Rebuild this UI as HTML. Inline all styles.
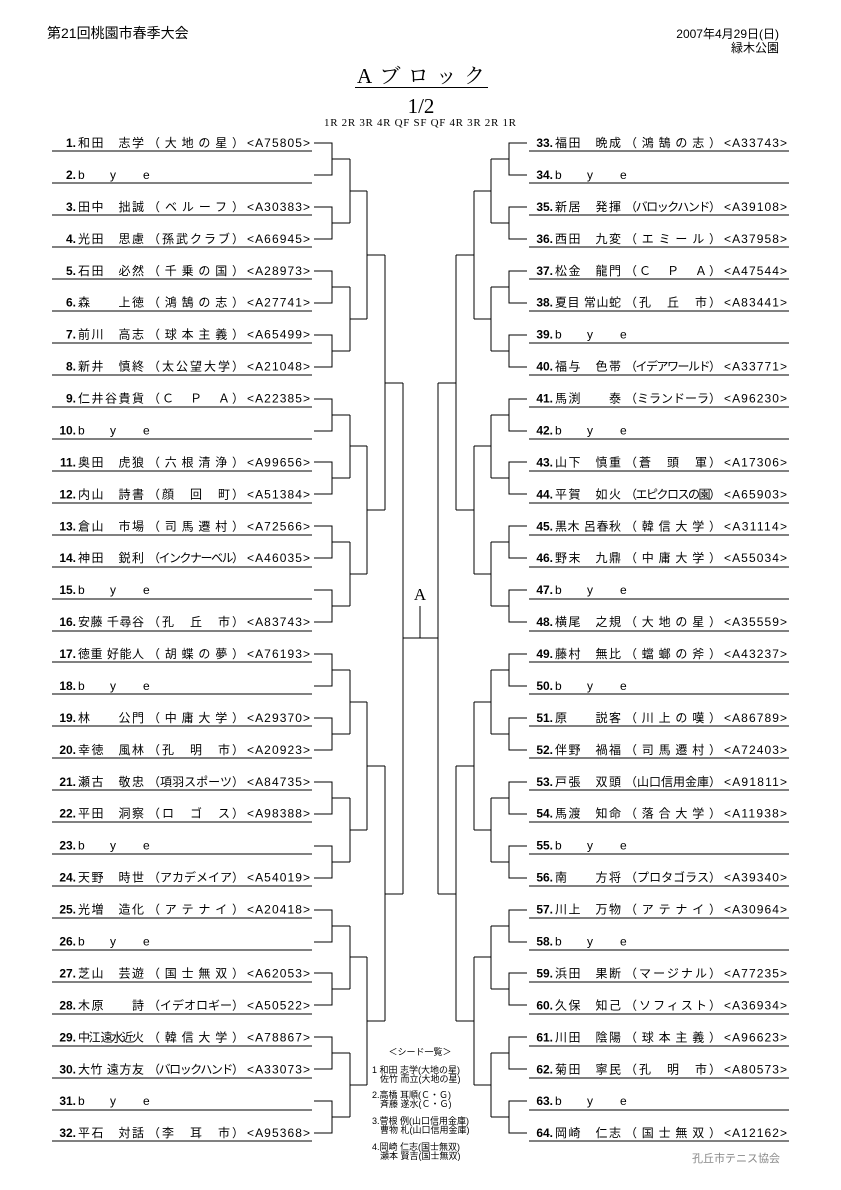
<!DOCTYPE html>
<html><head><meta charset="utf-8"><style>
html,body{margin:0;padding:0;background:#fff}
svg{display:block}
text{font-family:"Liberation Sans","Noto Sans CJK JP",sans-serif;font-size:12px;fill:#000}
.b{font-weight:bold;text-anchor:end}
.s{font-family:"Liberation Serif","Noto Serif CJK SC",serif}
.sd{font-size:9px}
</style></head><body>
<svg width="841" height="1190" viewBox="0 0 841 1190" xmlns="http://www.w3.org/2000/svg">
<text x="47" y="38" style="font-size:14px">第21回桃園市春季大会</text>
<text x="779" y="38" style="font-size:12px;text-anchor:end">2007年4月29日(日)</text>
<text x="779" y="52" style="font-size:12px;text-anchor:end">緑木公園</text>
<text x="421" y="83" class="s" style="font-size:21px;text-anchor:middle" textLength="128" lengthAdjust="spacing">Aブロック</text>
<line x1="355" y1="87.5" x2="488" y2="87.5" stroke="#000" stroke-width="1"/>
<text x="421" y="113" class="s" style="font-size:21px;text-anchor:middle">1/2</text>
<text x="324" y="126" class="s" style="font-size:11px" textLength="192" lengthAdjust="spacing">1R 2R 3R 4R QF SF QF 4R 3R 2R 1R</text>

<g id="L" fill="none" stroke="#000" stroke-width="1" shape-rendering="crispEdges">
<path d="M52 151H312M52 183H312M52 215H312M52 247H312M52 279H312M52 311H312M52 343H312M52 375H312M52 407H312M52 439H312M52 471H312M52 503H312M52 535H312M52 567H312M52 599H312M52 631H312M52 662H312M52 694H312M52 726H312M52 758H312M52 790H312M52 822H312M52 854H312M52 886H312M52 918H312M52 950H312M52 982H312M52 1014H312M52 1046H312M52 1078H312M52 1110H312M52 1141H312" stroke-width="1.3"/>
<path d="M314 143H332V175H314M332 159H350
M314 207H332V239H314M332 223H350
M314 271H332V303H314M332 287H350
M314 335H332V367H314M332 351H350
M314 399H332V431H314M332 415H350
M314 462H332V494H314M332 478H350
M314 526H332V558H314M332 542H350
M314 590H332V622H314M332 606H350
M314 654H332V686H314M332 670H350
M314 718H332V750H314M332 734H350
M314 782H332V814H314M332 798H350
M314 846H332V878H314M332 862H350
M314 910H332V942H314M332 926H350
M314 973H332V1005H314M332 989H350
M314 1037H332V1069H314M332 1053H350
M314 1101H332V1133H314M332 1117H350
M350 159V223M350 191H367M350 287V351M350 319H367M350 415V478M350 446H367M350 542V606M350 574H367
M350 670V734M350 702H367M350 798V862M350 830H367M350 926V989M350 957H367M350 1053V1117M350 1085H367
M367 191V319M367 255H385M367 446V574M367 510H385M367 702V830M367 766H385M367 957V1085M367 1021H385
M385 255V510M385 383H403M385 766V1021M385 894H403
M403 383V894"/>
</g>
<use href="#L" transform="translate(841,0) scale(-1,1)"/>
<path d="M403 638H438M420 606V638" stroke="#000" fill="none" shape-rendering="crispEdges"/>
<text x="420" y="600" class="s" style="font-size:17px;text-anchor:middle">A</text>

<!-- LEFT -->
<g transform="translate(0,0)"><text x="76" y="147" class="b">1.</text><text x="78" y="147" textLength="66" lengthAdjust="spacing">和田　志学</text><text x="148" y="147" textLength="96" lengthAdjust="spacing">（大地の星）</text><text x="247" y="147" textLength="63" lengthAdjust="spacing">&lt;A75805&gt;</text></g>
<g transform="translate(0,31.94)"><text x="76" y="147" class="b">2.</text><text x="78" y="147">b</text><text x="110" y="147">y</text><text x="143" y="147">e</text></g>
<g transform="translate(0,63.88)"><text x="76" y="147" class="b">3.</text><text x="78" y="147" textLength="66" lengthAdjust="spacing">田中　拙誠</text><text x="148" y="147" textLength="96" lengthAdjust="spacing">（ベルーフ）</text><text x="247" y="147" textLength="63" lengthAdjust="spacing">&lt;A30383&gt;</text></g>
<g transform="translate(0,95.82)"><text x="76" y="147" class="b">4.</text><text x="78" y="147" textLength="66" lengthAdjust="spacing">光田　思慮</text><text x="148" y="147" textLength="96" lengthAdjust="spacing">（孫武クラブ）</text><text x="247" y="147" textLength="63" lengthAdjust="spacing">&lt;A66945&gt;</text></g>
<g transform="translate(0,127.76)"><text x="76" y="147" class="b">5.</text><text x="78" y="147" textLength="66" lengthAdjust="spacing">石田　必然</text><text x="148" y="147" textLength="96" lengthAdjust="spacing">（千乗の国）</text><text x="247" y="147" textLength="63" lengthAdjust="spacing">&lt;A28973&gt;</text></g>
<g transform="translate(0,159.7)"><text x="76" y="147" class="b">6.</text><text x="78" y="147" textLength="66" lengthAdjust="spacing">森　　上徳</text><text x="148" y="147" textLength="96" lengthAdjust="spacing">（鴻鵠の志）</text><text x="247" y="147" textLength="63" lengthAdjust="spacing">&lt;A27741&gt;</text></g>
<g transform="translate(0,191.64)"><text x="76" y="147" class="b">7.</text><text x="78" y="147" textLength="66" lengthAdjust="spacing">前川　高志</text><text x="148" y="147" textLength="96" lengthAdjust="spacing">（球本主義）</text><text x="247" y="147" textLength="63" lengthAdjust="spacing">&lt;A65499&gt;</text></g>
<g transform="translate(0,223.58)"><text x="76" y="147" class="b">8.</text><text x="78" y="147" textLength="66" lengthAdjust="spacing">新井　慎終</text><text x="148" y="147" textLength="96" lengthAdjust="spacing">（太公望大学）</text><text x="247" y="147" textLength="63" lengthAdjust="spacing">&lt;A21048&gt;</text></g>
<g transform="translate(0,255.52)"><text x="76" y="147" class="b">9.</text><text x="78" y="147" textLength="66" lengthAdjust="spacing">仁井谷貴貨</text><text x="148" y="147" textLength="96" lengthAdjust="spacing">（Ｃ　Ｐ　Ａ）</text><text x="247" y="147" textLength="63" lengthAdjust="spacing">&lt;A22385&gt;</text></g>
<g transform="translate(0,287.46)"><text x="76" y="147" class="b">10.</text><text x="78" y="147">b</text><text x="110" y="147">y</text><text x="143" y="147">e</text></g>
<g transform="translate(0,319.4)"><text x="76" y="147" class="b">11.</text><text x="78" y="147" textLength="66" lengthAdjust="spacing">奥田　虎狼</text><text x="148" y="147" textLength="96" lengthAdjust="spacing">（六根清浄）</text><text x="247" y="147" textLength="63" lengthAdjust="spacing">&lt;A99656&gt;</text></g>
<g transform="translate(0,351.34)"><text x="76" y="147" class="b">12.</text><text x="78" y="147" textLength="66" lengthAdjust="spacing">内山　詩書</text><text x="148" y="147" textLength="96" lengthAdjust="spacing">（顔　回　町）</text><text x="247" y="147" textLength="63" lengthAdjust="spacing">&lt;A51384&gt;</text></g>
<g transform="translate(0,383.28)"><text x="76" y="147" class="b">13.</text><text x="78" y="147" textLength="66" lengthAdjust="spacing">倉山　市場</text><text x="148" y="147" textLength="96" lengthAdjust="spacing">（司馬遷村）</text><text x="247" y="147" textLength="63" lengthAdjust="spacing">&lt;A72566&gt;</text></g>
<g transform="translate(0,415.22)"><text x="76" y="147" class="b">14.</text><text x="78" y="147" textLength="66" lengthAdjust="spacing">神田　鋭利</text><text x="148" y="147" textLength="96" lengthAdjust="spacing">（インクナーベル）</text><text x="247" y="147" textLength="63" lengthAdjust="spacing">&lt;A46035&gt;</text></g>
<g transform="translate(0,447.16)"><text x="76" y="147" class="b">15.</text><text x="78" y="147">b</text><text x="110" y="147">y</text><text x="143" y="147">e</text></g>
<g transform="translate(0,479.1)"><text x="76" y="147" class="b">16.</text><text x="78" y="147" textLength="66" lengthAdjust="spacing">安藤 千尋谷</text><text x="148" y="147" textLength="96" lengthAdjust="spacing">（孔　丘　市）</text><text x="247" y="147" textLength="63" lengthAdjust="spacing">&lt;A83743&gt;</text></g>
<g transform="translate(0,511.04)"><text x="76" y="147" class="b">17.</text><text x="78" y="147" textLength="66" lengthAdjust="spacing">徳重 好能人</text><text x="148" y="147" textLength="96" lengthAdjust="spacing">（胡蝶の夢）</text><text x="247" y="147" textLength="63" lengthAdjust="spacing">&lt;A76193&gt;</text></g>
<g transform="translate(0,542.98)"><text x="76" y="147" class="b">18.</text><text x="78" y="147">b</text><text x="110" y="147">y</text><text x="143" y="147">e</text></g>
<g transform="translate(0,574.92)"><text x="76" y="147" class="b">19.</text><text x="78" y="147" textLength="66" lengthAdjust="spacing">林　　公門</text><text x="148" y="147" textLength="96" lengthAdjust="spacing">（中庸大学）</text><text x="247" y="147" textLength="63" lengthAdjust="spacing">&lt;A29370&gt;</text></g>
<g transform="translate(0,606.86)"><text x="76" y="147" class="b">20.</text><text x="78" y="147" textLength="66" lengthAdjust="spacing">幸徳　風林</text><text x="148" y="147" textLength="96" lengthAdjust="spacing">（孔　明　市）</text><text x="247" y="147" textLength="63" lengthAdjust="spacing">&lt;A20923&gt;</text></g>
<g transform="translate(0,638.8)"><text x="76" y="147" class="b">21.</text><text x="78" y="147" textLength="66" lengthAdjust="spacing">瀬古　敬忠</text><text x="148" y="147" textLength="96" lengthAdjust="spacing">（項羽スポーツ）</text><text x="247" y="147" textLength="63" lengthAdjust="spacing">&lt;A84735&gt;</text></g>
<g transform="translate(0,670.74)"><text x="76" y="147" class="b">22.</text><text x="78" y="147" textLength="66" lengthAdjust="spacing">平田　洞察</text><text x="148" y="147" textLength="96" lengthAdjust="spacing">（ロ　ゴ　ス）</text><text x="247" y="147" textLength="63" lengthAdjust="spacing">&lt;A98388&gt;</text></g>
<g transform="translate(0,702.68)"><text x="76" y="147" class="b">23.</text><text x="78" y="147">b</text><text x="110" y="147">y</text><text x="143" y="147">e</text></g>
<g transform="translate(0,734.62)"><text x="76" y="147" class="b">24.</text><text x="78" y="147" textLength="66" lengthAdjust="spacing">天野　時世</text><text x="148" y="147" textLength="96" lengthAdjust="spacing">（アカデメイア）</text><text x="247" y="147" textLength="63" lengthAdjust="spacing">&lt;A54019&gt;</text></g>
<g transform="translate(0,766.56)"><text x="76" y="147" class="b">25.</text><text x="78" y="147" textLength="66" lengthAdjust="spacing">光増　造化</text><text x="148" y="147" textLength="96" lengthAdjust="spacing">（アテナイ）</text><text x="247" y="147" textLength="63" lengthAdjust="spacing">&lt;A20418&gt;</text></g>
<g transform="translate(0,798.5)"><text x="76" y="147" class="b">26.</text><text x="78" y="147">b</text><text x="110" y="147">y</text><text x="143" y="147">e</text></g>
<g transform="translate(0,830.44)"><text x="76" y="147" class="b">27.</text><text x="78" y="147" textLength="66" lengthAdjust="spacing">芝山　芸遊</text><text x="148" y="147" textLength="96" lengthAdjust="spacing">（国士無双）</text><text x="247" y="147" textLength="63" lengthAdjust="spacing">&lt;A62053&gt;</text></g>
<g transform="translate(0,862.38)"><text x="76" y="147" class="b">28.</text><text x="78" y="147" textLength="66" lengthAdjust="spacing">木原　　詩</text><text x="148" y="147" textLength="96" lengthAdjust="spacing">（イデオロギー）</text><text x="247" y="147" textLength="63" lengthAdjust="spacing">&lt;A50522&gt;</text></g>
<g transform="translate(0,894.32)"><text x="76" y="147" class="b">29.</text><text x="78" y="147" textLength="66" lengthAdjust="spacing">中江 遠水近火</text><text x="148" y="147" textLength="96" lengthAdjust="spacing">（韓信大学）</text><text x="247" y="147" textLength="63" lengthAdjust="spacing">&lt;A78867&gt;</text></g>
<g transform="translate(0,926.26)"><text x="76" y="147" class="b">30.</text><text x="78" y="147" textLength="66" lengthAdjust="spacing">大竹 遠方友</text><text x="148" y="147" textLength="96" lengthAdjust="spacing">（バロックハンド）</text><text x="247" y="147" textLength="63" lengthAdjust="spacing">&lt;A33073&gt;</text></g>
<g transform="translate(0,958.2)"><text x="76" y="147" class="b">31.</text><text x="78" y="147">b</text><text x="110" y="147">y</text><text x="143" y="147">e</text></g>
<g transform="translate(0,990.14)"><text x="76" y="147" class="b">32.</text><text x="78" y="147" textLength="66" lengthAdjust="spacing">平石　対話</text><text x="148" y="147" textLength="96" lengthAdjust="spacing">（李　耳　市）</text><text x="247" y="147" textLength="63" lengthAdjust="spacing">&lt;A95368&gt;</text></g>

<!-- RIGHT -->
<g transform="translate(477,0)"><text x="76" y="147" class="b">33.</text><text x="78" y="147" textLength="66" lengthAdjust="spacing">福田　晩成</text><text x="148" y="147" textLength="96" lengthAdjust="spacing">（鴻鵠の志）</text><text x="247" y="147" textLength="63" lengthAdjust="spacing">&lt;A33743&gt;</text></g>
<g transform="translate(477,31.94)"><text x="76" y="147" class="b">34.</text><text x="78" y="147">b</text><text x="110" y="147">y</text><text x="143" y="147">e</text></g>
<g transform="translate(477,63.88)"><text x="76" y="147" class="b">35.</text><text x="78" y="147" textLength="66" lengthAdjust="spacing">新居　発揮</text><text x="148" y="147" textLength="96" lengthAdjust="spacing">（バロックハンド）</text><text x="247" y="147" textLength="63" lengthAdjust="spacing">&lt;A39108&gt;</text></g>
<g transform="translate(477,95.82)"><text x="76" y="147" class="b">36.</text><text x="78" y="147" textLength="66" lengthAdjust="spacing">西田　九変</text><text x="148" y="147" textLength="96" lengthAdjust="spacing">（エミール）</text><text x="247" y="147" textLength="63" lengthAdjust="spacing">&lt;A37958&gt;</text></g>
<g transform="translate(477,127.76)"><text x="76" y="147" class="b">37.</text><text x="78" y="147" textLength="66" lengthAdjust="spacing">松金　龍門</text><text x="148" y="147" textLength="96" lengthAdjust="spacing">（Ｃ　Ｐ　Ａ）</text><text x="247" y="147" textLength="63" lengthAdjust="spacing">&lt;A47544&gt;</text></g>
<g transform="translate(477,159.7)"><text x="76" y="147" class="b">38.</text><text x="78" y="147" textLength="66" lengthAdjust="spacing">夏目 常山蛇</text><text x="148" y="147" textLength="96" lengthAdjust="spacing">（孔　丘　市）</text><text x="247" y="147" textLength="63" lengthAdjust="spacing">&lt;A83441&gt;</text></g>
<g transform="translate(477,191.64)"><text x="76" y="147" class="b">39.</text><text x="78" y="147">b</text><text x="110" y="147">y</text><text x="143" y="147">e</text></g>
<g transform="translate(477,223.58)"><text x="76" y="147" class="b">40.</text><text x="78" y="147" textLength="66" lengthAdjust="spacing">福与　色帯</text><text x="148" y="147" textLength="96" lengthAdjust="spacing">（イデアワールド）</text><text x="247" y="147" textLength="63" lengthAdjust="spacing">&lt;A33771&gt;</text></g>
<g transform="translate(477,255.52)"><text x="76" y="147" class="b">41.</text><text x="78" y="147" textLength="66" lengthAdjust="spacing">馬渕　　泰</text><text x="148" y="147" textLength="96" lengthAdjust="spacing">（ミランドーラ）</text><text x="247" y="147" textLength="63" lengthAdjust="spacing">&lt;A96230&gt;</text></g>
<g transform="translate(477,287.46)"><text x="76" y="147" class="b">42.</text><text x="78" y="147">b</text><text x="110" y="147">y</text><text x="143" y="147">e</text></g>
<g transform="translate(477,319.4)"><text x="76" y="147" class="b">43.</text><text x="78" y="147" textLength="66" lengthAdjust="spacing">山下　慎重</text><text x="148" y="147" textLength="96" lengthAdjust="spacing">（蒼　頭　軍）</text><text x="247" y="147" textLength="63" lengthAdjust="spacing">&lt;A17306&gt;</text></g>
<g transform="translate(477,351.34)"><text x="76" y="147" class="b">44.</text><text x="78" y="147" textLength="66" lengthAdjust="spacing">平賀　如火</text><text x="148" y="147" textLength="96" lengthAdjust="spacing">（エピクロスの園）</text><text x="247" y="147" textLength="63" lengthAdjust="spacing">&lt;A65903&gt;</text></g>
<g transform="translate(477,383.28)"><text x="76" y="147" class="b">45.</text><text x="78" y="147" textLength="66" lengthAdjust="spacing">黒木 呂春秋</text><text x="148" y="147" textLength="96" lengthAdjust="spacing">（韓信大学）</text><text x="247" y="147" textLength="63" lengthAdjust="spacing">&lt;A31114&gt;</text></g>
<g transform="translate(477,415.22)"><text x="76" y="147" class="b">46.</text><text x="78" y="147" textLength="66" lengthAdjust="spacing">野末　九鼎</text><text x="148" y="147" textLength="96" lengthAdjust="spacing">（中庸大学）</text><text x="247" y="147" textLength="63" lengthAdjust="spacing">&lt;A55034&gt;</text></g>
<g transform="translate(477,447.16)"><text x="76" y="147" class="b">47.</text><text x="78" y="147">b</text><text x="110" y="147">y</text><text x="143" y="147">e</text></g>
<g transform="translate(477,479.1)"><text x="76" y="147" class="b">48.</text><text x="78" y="147" textLength="66" lengthAdjust="spacing">横尾　之規</text><text x="148" y="147" textLength="96" lengthAdjust="spacing">（大地の星）</text><text x="247" y="147" textLength="63" lengthAdjust="spacing">&lt;A35559&gt;</text></g>
<g transform="translate(477,511.04)"><text x="76" y="147" class="b">49.</text><text x="78" y="147" textLength="66" lengthAdjust="spacing">藤村　無比</text><text x="148" y="147" textLength="96" lengthAdjust="spacing">（蟷螂の斧）</text><text x="247" y="147" textLength="63" lengthAdjust="spacing">&lt;A43237&gt;</text></g>
<g transform="translate(477,542.98)"><text x="76" y="147" class="b">50.</text><text x="78" y="147">b</text><text x="110" y="147">y</text><text x="143" y="147">e</text></g>
<g transform="translate(477,574.92)"><text x="76" y="147" class="b">51.</text><text x="78" y="147" textLength="66" lengthAdjust="spacing">原　　説客</text><text x="148" y="147" textLength="96" lengthAdjust="spacing">（川上の嘆）</text><text x="247" y="147" textLength="63" lengthAdjust="spacing">&lt;A86789&gt;</text></g>
<g transform="translate(477,606.86)"><text x="76" y="147" class="b">52.</text><text x="78" y="147" textLength="66" lengthAdjust="spacing">伴野　禍福</text><text x="148" y="147" textLength="96" lengthAdjust="spacing">（司馬遷村）</text><text x="247" y="147" textLength="63" lengthAdjust="spacing">&lt;A72403&gt;</text></g>
<g transform="translate(477,638.8)"><text x="76" y="147" class="b">53.</text><text x="78" y="147" textLength="66" lengthAdjust="spacing">戸張　双頭</text><text x="148" y="147" textLength="96" lengthAdjust="spacing">（山口信用金庫）</text><text x="247" y="147" textLength="63" lengthAdjust="spacing">&lt;A91811&gt;</text></g>
<g transform="translate(477,670.74)"><text x="76" y="147" class="b">54.</text><text x="78" y="147" textLength="66" lengthAdjust="spacing">馬渡　知命</text><text x="148" y="147" textLength="96" lengthAdjust="spacing">（落合大学）</text><text x="247" y="147" textLength="63" lengthAdjust="spacing">&lt;A11938&gt;</text></g>
<g transform="translate(477,702.68)"><text x="76" y="147" class="b">55.</text><text x="78" y="147">b</text><text x="110" y="147">y</text><text x="143" y="147">e</text></g>
<g transform="translate(477,734.62)"><text x="76" y="147" class="b">56.</text><text x="78" y="147" textLength="66" lengthAdjust="spacing">南　　方将</text><text x="148" y="147" textLength="96" lengthAdjust="spacing">（プロタゴラス）</text><text x="247" y="147" textLength="63" lengthAdjust="spacing">&lt;A39340&gt;</text></g>
<g transform="translate(477,766.56)"><text x="76" y="147" class="b">57.</text><text x="78" y="147" textLength="66" lengthAdjust="spacing">川上　万物</text><text x="148" y="147" textLength="96" lengthAdjust="spacing">（アテナイ）</text><text x="247" y="147" textLength="63" lengthAdjust="spacing">&lt;A30964&gt;</text></g>
<g transform="translate(477,798.5)"><text x="76" y="147" class="b">58.</text><text x="78" y="147">b</text><text x="110" y="147">y</text><text x="143" y="147">e</text></g>
<g transform="translate(477,830.44)"><text x="76" y="147" class="b">59.</text><text x="78" y="147" textLength="66" lengthAdjust="spacing">浜田　果断</text><text x="148" y="147" textLength="96" lengthAdjust="spacing">（マージナル）</text><text x="247" y="147" textLength="63" lengthAdjust="spacing">&lt;A77235&gt;</text></g>
<g transform="translate(477,862.38)"><text x="76" y="147" class="b">60.</text><text x="78" y="147" textLength="66" lengthAdjust="spacing">久保　知己</text><text x="148" y="147" textLength="96" lengthAdjust="spacing">（ソフィスト）</text><text x="247" y="147" textLength="63" lengthAdjust="spacing">&lt;A36934&gt;</text></g>
<g transform="translate(477,894.32)"><text x="76" y="147" class="b">61.</text><text x="78" y="147" textLength="66" lengthAdjust="spacing">川田　陰陽</text><text x="148" y="147" textLength="96" lengthAdjust="spacing">（球本主義）</text><text x="247" y="147" textLength="63" lengthAdjust="spacing">&lt;A96623&gt;</text></g>
<g transform="translate(477,926.26)"><text x="76" y="147" class="b">62.</text><text x="78" y="147" textLength="66" lengthAdjust="spacing">菊田　寧民</text><text x="148" y="147" textLength="96" lengthAdjust="spacing">（孔　明　市）</text><text x="247" y="147" textLength="63" lengthAdjust="spacing">&lt;A80573&gt;</text></g>
<g transform="translate(477,958.2)"><text x="76" y="147" class="b">63.</text><text x="78" y="147">b</text><text x="110" y="147">y</text><text x="143" y="147">e</text></g>
<g transform="translate(477,990.14)"><text x="76" y="147" class="b">64.</text><text x="78" y="147" textLength="66" lengthAdjust="spacing">岡崎　仁志</text><text x="148" y="147" textLength="96" lengthAdjust="spacing">（国士無双）</text><text x="247" y="147" textLength="63" lengthAdjust="spacing">&lt;A12162&gt;</text></g>

<!-- seed list -->
<text x="420" y="1055" class="sd" style="text-anchor:middle">＜シード一覧＞</text>
<text x="372" y="1073" class="sd">1 和田 志学(大地の星)</text>
<text x="380" y="1082" class="sd">佐竹 而立(大地の星)</text>
<text x="372" y="1098" class="sd">2.高橋 耳順(Ｃ・Ｇ)</text>
<text x="380" y="1107" class="sd">斉藤 遂水(Ｃ・Ｇ)</text>
<text x="372" y="1124" class="sd">3.菅根 例(山口信用金庫)</text>
<text x="380" y="1133" class="sd">曹物 札(山口信用金庫)</text>
<text x="372" y="1150" class="sd">4.岡崎 仁志(国士無双)</text>
<text x="380" y="1159" class="sd">瀬本 賢吉(国士無双)</text>

<text x="780" y="1162" style="font-size:11px;fill:#888;text-anchor:end">孔丘市テニス協会</text>
</svg>
</body></html>
